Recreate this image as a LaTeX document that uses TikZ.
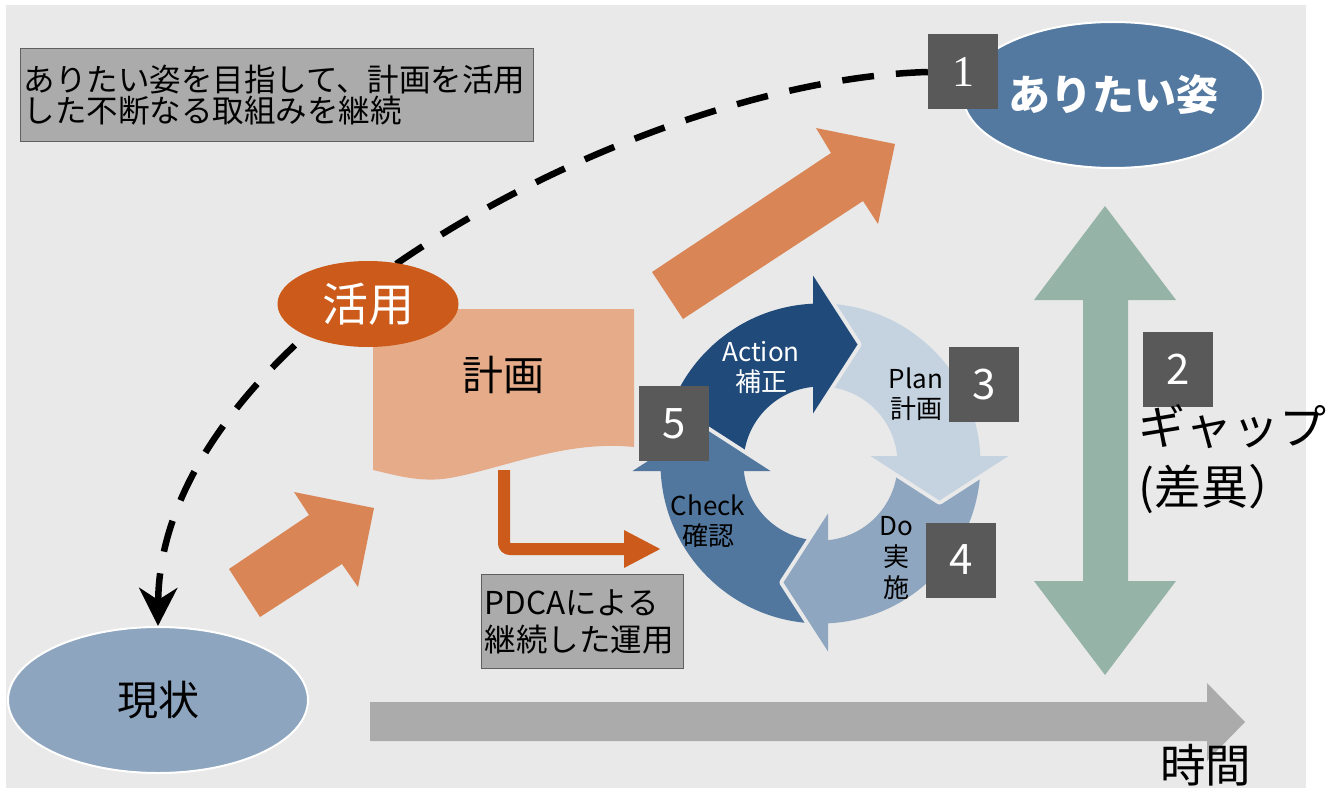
\documentclass[tikz,border=0pt]{standalone}
\usepackage{fontspec}
\setmainfont{Noto Sans CJK JP}
\newfontfamily\numserif{Liberation Serif}
\usetikzlibrary{shapes.geometric,arrows.meta}
\definecolor{bgc}{HTML}{E9E9E9}
\definecolor{boxgray}{HTML}{ABABAB}
\definecolor{boxedge}{HTML}{606060}
\definecolor{numgray}{HTML}{595959}
\definecolor{orangeA}{HTML}{D98555}
\definecolor{orangeD}{HTML}{CC5A1A}
\definecolor{salmon}{HTML}{E6AC8A}
\definecolor{steel}{HTML}{5479A0}
\definecolor{paleblue}{HTML}{8DA5BF}
\definecolor{actc}{HTML}{1F4A7A}
\definecolor{planc}{HTML}{C5D3E0}
\definecolor{docolor}{HTML}{8EA6C0}
\definecolor{checkc}{HTML}{52779E}
\definecolor{gapc}{HTML}{95B3A6}
\newcommand{\fsz}[2]{\fontsize{#1}{#2}\selectfont}
\begin{document}
\begin{tikzpicture}[x=1pt,y=1pt,
  numbox/.style={rectangle, fill=numgray, minimum width=70pt, minimum height=75pt, inner sep=0pt, text=white, font=\fsz{42}{42}},
  textbox/.style={rectangle, draw=boxedge, fill=boxgray, line width=1.2pt, inner xsep=3pt, inner ysep=0pt, align=left},
  oval/.style={ellipse, inner sep=0pt},
  headgap/.style={draw=bgc, line width=8pt, line join=round},
  cyclabel/.style={align=center, inner sep=0pt}]
\fill[white] (0,0) rectangle (1343,-789);
\useasboundingbox (0,0) rectangle (1343,-789);
\fill[bgc] (6,-5) rectangle (1306,-788);

% top-left text box
\node[textbox, anchor=north west, minimum width=513pt, minimum height=93pt, text width=507pt, font=\fsz{31.5}{31}] (goal) at (20,-48) {ありたい姿を目指して、計画を活用\\した不断なる取組みを継続};

% time arrow
\fill[boxgray] (370,-702) -- (1207,-702) -- (1207,-683) -- (1245,-722) -- (1207,-761) -- (1207,-741) -- (370,-741) -- cycle;
% gap arrow
\fill[gapc] (1105,-206) -- (1176,-300) -- (1128,-300) -- (1128,-581) -- (1176,-581) -- (1105,-675) -- (1034,-581) -- (1083,-581) -- (1083,-300) -- (1034,-300) -- cycle;
% orange block arrows
\fill[orangeA] (652,-272) -- (831,-153) -- (816,-128) -- (895,-144) -- (878,-224) -- (863,-201) -- (683,-319) -- cycle;
\fill[orangeA] (229,-569) -- (309,-515) -- (294,-492) -- (374,-508) -- (358,-587) -- (342,-564) -- (260,-617) -- cycle;

% ellipses
\node[oval, fill=steel, draw=white, line width=2pt, minimum width=300pt, minimum height=146pt, text=white, font=\fsz{42}{42}\bfseries] (ideal) at (1113,-95) {ありたい姿};
\node[oval, fill=paleblue, draw=white, line width=2pt, minimum width=300pt, minimum height=146pt, font=\fsz{41}{41}] (now) at (158,-700) {現状};
\node[numbox, font=\numserif\fsz{44}{44}] (n1) at (963,-72) {1};

% dashed curve
\draw[line width=6.5pt, dash pattern=on 32pt off 22pt, -{Stealth[length=38pt,width=38pt,inset=12pt]}] (n1.west) .. controls (640,-80) and (160,-330) .. (now.north);

% elbow arrow
\coordinate (elbS) at (504,-470);
\coordinate (elbE) at (661,-549);
\draw[orangeD, line width=12pt, rounded corners=6pt, -{Triangle[length=37pt,width=35pt]}] (elbS) |- (elbE);

% plan document
\fill[salmon] (373,-309) -- (634,-309) -- (634,-447) .. controls (565,-440) and (505,-468) .. (450,-478) .. controls (420,-483) and (395,-475) .. (373,-470) -- cycle;
\node[font=\fsz{41}{41}] (plan) at (503,-375) {計画};
\node[oval, fill=orangeD, minimum width=181pt, minimum height=86pt, text=white, font=\fsz{46}{46}] (use) at (368,-304) {活用};

% PDCA cycle
\begin{scope}[shift={(820.5,-463.5)}]
  \fill[actc] (182:160) arc[start angle=182,end angle=92,radius=160] -- (92:77) arc[start angle=92,end angle=182,radius=77] -- cycle;
  \fill[planc] (92:160) arc[start angle=92,end angle=2,radius=160] -- (2:77) arc[start angle=2,end angle=92,radius=77] -- cycle;
  \fill[docolor] (2:160) arc[start angle=2,end angle=-88,radius=160] -- (-88:77) arc[start angle=-88,end angle=2,radius=77] -- cycle;
  \fill[checkc] (-88:160) arc[start angle=-88,end angle=-178,radius=160] -- (-178:77) arc[start angle=-178,end angle=-88,radius=77] -- cycle;
  \begin{scope}[rotate=0]
    \draw[headgap] (-7.5,188) -- (37,119) -- (-7.5,50);
    \fill[actc] (-7.5,50) -- (-7.5,188) -- (37,119) -- cycle;
  \end{scope}
  \begin{scope}[rotate=-90]
    \draw[headgap] (-7.5,188) -- (37,119) -- (-7.5,50);
    \fill[planc] (-7.5,50) -- (-7.5,188) -- (37,119) -- cycle;
  \end{scope}
  \begin{scope}[rotate=-180]
    \draw[headgap] (-7.5,188) -- (37,119) -- (-7.5,50);
    \fill[docolor] (-7.5,50) -- (-7.5,188) -- (37,119) -- cycle;
  \end{scope}
  \begin{scope}[rotate=-270]
    \draw[headgap] (-7.5,188) -- (37,119) -- (-7.5,50);
    \fill[checkc] (-7.5,50) -- (-7.5,188) -- (37,119) -- cycle;
  \end{scope}
\end{scope}
\node[cyclabel, text=white, font=\fsz{26}{30}] (lact) at (761,-367) {Action\\補正};
\node[cyclabel, font=\fsz{26}{30}] (lplan) at (916,-394) {Plan\\計画};
\node[cyclabel, font=\fsz{26}{30}] (lcheck) at (708,-521) {Check\\確認};
\node[cyclabel, font=\fsz{26}{31}] (ldo) at (896,-558) {Do\\実\\施};

% PDCA text box
\node[textbox, anchor=north west, minimum width=202pt, minimum height=94pt, text width=196pt, font=\fsz{31.5}{37}] (pdca) at (481,-574) {PDCAによる\\継続した運用};

% number boxes
\node[numbox] (n2) at (1178,-369.5) {2};
\node[numbox] (n3) at (984,-384.5) {3};
\node[numbox] (n4) at (961,-560) {4};
\node[numbox] (n5) at (674,-423.5) {5};

% gap / time labels
\node[anchor=north west, inner sep=0pt, align=left, font=\fsz{47}{60}] (gap) at (1138,-404) {ギャップ\\(差異）};
\node[anchor=north west, inner sep=0pt, font=\fsz{45.5}{46}] (time) at (1160,-744) {時間};
\end{tikzpicture}
\end{document}
